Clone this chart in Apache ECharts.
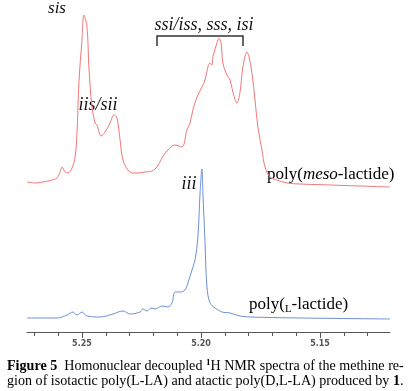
<!DOCTYPE html>
<html>
<head>
<meta charset="utf-8">
<script src="https://cdn.jsdelivr.net/npm/echarts@6/dist/echarts.min.js"></script>
<style>
html,body{margin:0;padding:0;background:#fff;}
#chart{width:416px;height:391px;}
</style>
</head>
<body>
<div id="chart"></div>
<script>
// chemical shift (ppm) and relative intensity (arbitrary units, offset spectra)
const ppmMeso = [5.2731,5.2697,5.2664,5.2626,5.2605,5.2592,5.2584,5.2571,5.2559,5.2542,5.2529,5.2521,5.2513,5.2500,5.2492,5.2479,5.2471,5.2458,5.2445,5.2437,5.2433,5.2420,5.2403,5.2382,5.2366,5.2353,5.2340,5.2328,5.2307,5.2286,5.2265,5.2235,5.2206,5.2185,5.2164,5.2139,5.2109,5.2080,5.2059,5.2046,5.2034,5.2017,5.1996,5.1983,5.1971,5.1962,5.1954,5.1950,5.1933,5.1924,5.1916,5.1908,5.1891,5.1878,5.1866,5.1849,5.1836,5.1824,5.1807,5.1798,5.1786,5.1773,5.1761,5.1744,5.1731,5.1710,5.1681,5.1639,5.1584,5.1458,5.1332,5.1206];
const intMeso = [150,149,150,152,154,160,165,160,159,164,175,199,249,292,317,305,265,225,209,207,204,196,200,209,217,214,192,172,162,159,159,160,161,165,174,182,187,185,202,209,222,235,245,252,265,269,267,275,289,294,289,269,257,252,240,229,240,265,280,275,259,232,205,182,165,155,152,149,148,147,146,145];
const ppmL = [5.2731,5.2605,5.2563,5.2538,5.2521,5.2500,5.2479,5.2424,5.2370,5.2328,5.2298,5.2256,5.2244,5.2227,5.2210,5.2193,5.2164,5.2139,5.2122,5.2109,5.2088,5.2067,5.2055,5.2038,5.2025,5.2013,5.2004,5.1996,5.1992,5.1983,5.1975,5.1962,5.1941,5.1912,5.1878,5.1836,5.1794,5.1584,5.1206];
const intL = [14,14,17,20,17,20,16,15,18,21,18,20,23,21,24,23,26,25,29,40,40,42,49,62,72,95,139,163,139,89,45,29,24,20,19,16,15,14,13];
const minorTicks = [5.27,5.26,5.25,5.24,5.23,5.22,5.21,5.20,5.19,5.18,5.17,5.16,5.15,5.14,5.13];
const majorTicks = [5.25,5.20,5.15];

const chart = echarts.init(document.getElementById('chart'), null, {renderer:'canvas'});
const serif = '"Liberation Serif", "DejaVu Serif", serif';
const pairs = (xs, ys) => xs.map((x, i) => [x, ys[i]]);

chart.setOption({
  animation: false,
  backgroundColor: '#fff',
  grid: {left: 27, right: 26, top: 0, bottom: 59, containLabel: false},
  xAxis: [{
    type: 'value', inverse: true, min: 5.1206, max: 5.2731, position: 'bottom',
    axisLine: {show: true, lineStyle: {color: '#555', width: 1}},
    axisTick: {show: true, length: 4, customValues: minorTicks, lineStyle: {color: '#555'}},
    axisLabel: {show: true, customValues: majorTicks, margin: 8, formatter: v => v.toFixed(2),
      fontFamily: '"DejaVu Sans", sans-serif', fontSize: 8, fontWeight: 'bold', color: '#555'},
    splitLine: {show: false}
  }, {
    type: 'value', inverse: true, min: 5.1206, max: 5.2731, position: 'bottom', offset: 0,
    axisLine: {show: false},
    axisTick: {show: true, length: 6, customValues: majorTicks, lineStyle: {color: '#555'}},
    axisLabel: {show: false},
    splitLine: {show: false}
  }],
  yAxis: {type: 'value', min: 0, max: 332, show: false, splitLine: {show: false}},
  series: [{
    type: 'line', xAxisIndex: 0, data: pairs(ppmMeso, intMeso), showSymbol: false, smooth: 0.35,
    lineStyle: {color: '#f07878', width: 1}, silent: true
  }, {
    type: 'line', xAxisIndex: 0, data: pairs(ppmL, intL), showSymbol: false, smooth: 0.35,
    lineStyle: {color: '#6f8fd8', width: 1}, silent: true
  }],
  graphic: [
    {type: 'text', style: {text: 'sis', x: 57, y: 9, textAlign: 'center', textVerticalAlign: 'middle', font: 'italic 17px ' + serif, fill: '#111'}},
    {type: 'text', style: {text: 'iis/sii', x: 98, y: 105, textAlign: 'center', textVerticalAlign: 'middle', font: 'italic 18px ' + serif, fill: '#111'}},
    {type: 'text', style: {text: 'ssi/iss, sss, isi', x: 204, y: 25, textAlign: 'center', textVerticalAlign: 'middle', font: 'italic 18px ' + serif, fill: '#111'}},
    {type: 'text', style: {text: 'iii', x: 189, y: 184, textAlign: 'center', textVerticalAlign: 'middle', font: 'italic 18px ' + serif, fill: '#111'}},
    {type: 'polyline', shape: {points: [[157, 46], [157, 36], [243, 36], [243, 46]]}, style: {stroke: '#333', lineWidth: 1.5, fill: null}},
    {type: 'text', style: {
      text: '{n|poly(}{i|meso}{n|-lactide)}', x: 267, y: 175, textAlign: 'left', textVerticalAlign: 'middle',
      rich: {n: {fontFamily: serif, fontSize: 17, color: '#111'}, i: {fontFamily: serif, fontSize: 17, fontStyle: 'italic', color: '#111'}}
    }},
    {type: 'text', style: {
      text: '{n|poly(}{s|L}{n|-lactide)}', x: 249, y: 305, textAlign: 'left', textVerticalAlign: 'middle',
      rich: {n: {fontFamily: serif, fontSize: 17, color: '#111', lineHeight: 20}, s: {fontFamily: serif, fontSize: 11, color: '#111', verticalAlign: 'bottom', lineHeight: 14}}
    }},
    {type: 'text', style: {
      text: '{b|Figure 5}{n|  Homonuclear decoupled }{sup|1}{n|H NMR spectra of the methine re-}', x: 7, y: 366, textAlign: 'left', textVerticalAlign: 'middle',
      rich: {n: {fontFamily: serif, fontSize: 14.1, color: '#222', lineHeight: 16}, b: {fontFamily: serif, fontSize: 14.1, fontWeight: 'bold', color: '#222', lineHeight: 16}, sup: {fontFamily: serif, fontSize: 9, fontWeight: 'bold', color: '#222', verticalAlign: 'top', lineHeight: 10}}
    }},
    {type: 'text', style: {
      text: '{n|gion of isotactic poly(L-LA) and atactic poly(D,L-LA) produced by }{b|1}{n|.}', x: 7, y: 381, textAlign: 'left', textVerticalAlign: 'middle',
      rich: {n: {fontFamily: serif, fontSize: 14.1, color: '#222', lineHeight: 16}, b: {fontFamily: serif, fontSize: 14.1, fontWeight: 'bold', color: '#222', lineHeight: 16}}
    }}
  ]
});
</script>
</body>
</html>
